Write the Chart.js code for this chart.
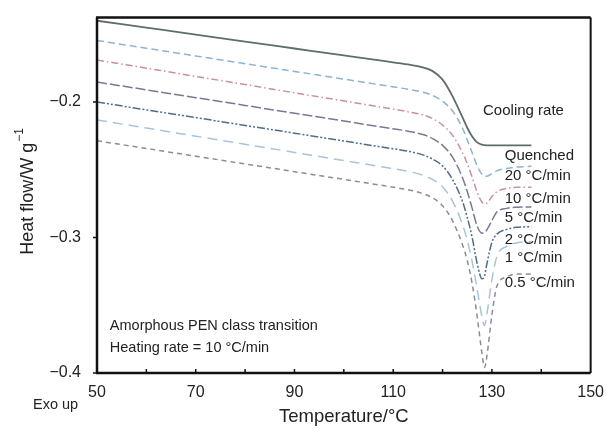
<!DOCTYPE html>
<html lang="en">
<head>
  <meta charset="UTF-8" />
  <title>PEN glass transition DSC</title>
  <script src="https://cdn.jsdelivr.net/npm/chart.js@4.4.0/dist/chart.umd.min.js"></script>
  <style>
    html, body { margin: 0; padding: 0; background: #fff; }
    .wrap { width: 606px; height: 432px; position: relative; }
  </style>
</head>
<body>
  <div class="wrap"><canvas id="dsc"></canvas></div>

  <script>
    // temperatures (°C) shared by all curves
    const temps = [50, 60, 70, 80, 90, 100, 108, 113, 116, 118, 120, 122, 124, 125, 126, 127, 128, 128.5, 129, 130, 131, 133, 135, 138];

    const quenched = [-0.140, -0.1451, -0.1502, -0.1554, -0.1605, -0.1656, -0.1697, -0.1723, -0.1745, -0.1772, -0.1835, -0.1956, -0.211, -0.219, -0.2255, -0.2298, -0.2315, -0.2318, -0.232, -0.232, -0.232, -0.232, -0.232, -0.232];
    const rate20 = [-0.1546, -0.1603, -0.166, -0.1717, -0.1774, -0.1831, -0.1877, -0.1906, -0.1928, -0.1952, -0.1995, -0.2065, -0.219, -0.228, -0.2375, -0.247, -0.2535, -0.2548, -0.2548, -0.2528, -0.2508, -0.249, -0.248, -0.2475];
    const rate10 = [-0.169, -0.175, -0.1811, -0.1871, -0.1932, -0.1992, -0.204, -0.2072, -0.2095, -0.2123, -0.217, -0.2245, -0.237, -0.2455, -0.2555, -0.2665, -0.274, -0.2752, -0.2745, -0.2698, -0.2662, -0.2638, -0.263, -0.263];
    const rate5 = [-0.1853, -0.191, -0.1968, -0.2025, -0.2083, -0.214, -0.2187, -0.2215, -0.224, -0.227, -0.232, -0.2405, -0.2555, -0.266, -0.2785, -0.2915, -0.2968, -0.2965, -0.2942, -0.2875, -0.2812, -0.2785, -0.2777, -0.2775];
    const rate2 = [-0.200, -0.2058, -0.2115, -0.2173, -0.223, -0.2288, -0.2334, -0.2363, -0.239, -0.2422, -0.2472, -0.257, -0.273, -0.285, -0.300, -0.319, -0.3305, -0.3285, -0.319, -0.3035, -0.2975, -0.294, -0.2925, -0.292];
    const rate1 = [-0.2132, -0.2192, -0.2252, -0.2312, -0.2372, -0.2432, -0.248, -0.2512, -0.254, -0.2572, -0.2625, -0.273, -0.290, -0.302, -0.318, -0.338, -0.359, -0.365, -0.356, -0.331, -0.314, -0.3065, -0.304, -0.303];
    const rate05 = [-0.2286, -0.2343, -0.240, -0.2457, -0.2514, -0.2571, -0.2617, -0.2648, -0.2675, -0.2708, -0.2765, -0.2875, -0.305, -0.317, -0.334, -0.358, -0.386, -0.396, -0.387, -0.357, -0.336, -0.329, -0.327, -0.327];

    const seriesNames = ['Quenched', '20 °C/min', '10 °C/min', '5 °C/min', '2 °C/min', '1 °C/min', '0.5 °C/min'];
    const yTicks = [-0.4, -0.3, -0.2];

    const FONT = "'Liberation Sans', Arial, sans-serif";

    function pts(vals) {
      return vals.map((v, i) => ({ x: temps[i], y: v }));
    }

    function line(label, vals, color, dash, width) {
      return {
        label: label,
        data: pts(vals),
        borderColor: color,
        borderWidth: width || 1.5,
        borderDash: dash,
        pointRadius: 0,
        fill: false,
        cubicInterpolationMode: 'monotone'
      };
    }

    // labels placed in data units (temperature, heat flow)
    const notes = [
      { text: 'Cooling rate', x: 128.2, y: -0.2066, size: 15 },
      { text: 'Quenched', x: 132.6, y: -0.2396, size: 15 },
      { text: '20 °C/min', x: 132.6, y: -0.2545, size: 15 },
      { text: '10 °C/min', x: 132.6, y: -0.2712, size: 15 },
      { text: '5 °C/min', x: 132.6, y: -0.2857, size: 15 },
      { text: '2 °C/min', x: 132.6, y: -0.3018, size: 15 },
      { text: '1 °C/min', x: 132.6, y: -0.3150, size: 15 },
      { text: '0.5 °C/min', x: 132.6, y: -0.3333, size: 15 },
      { text: 'Amorphous PEN class transition', x: 52.6, y: -0.3655, size: 14.5 },
      { text: 'Heating rate = 10 °C/min', x: 52.6, y: -0.3815, size: 14.5 }
    ];

    const decor = {
      id: 'decor',
      afterDraw(chart) {
        const ctx = chart.ctx;
        const a = chart.chartArea;
        const xs = chart.scales.x, ys = chart.scales.y;
        ctx.save();

        // frame
        ctx.strokeStyle = '#111';
        ctx.lineWidth = 2.5;
        ctx.beginPath();
        ctx.moveTo(a.left, a.top); ctx.lineTo(a.left, a.bottom);
        ctx.moveTo(a.left - 1, a.bottom); ctx.lineTo(a.right, a.bottom);
        ctx.moveTo(a.left - 1, a.top); ctx.lineTo(a.right, a.top);
        ctx.stroke();
        ctx.lineWidth = 2;
        ctx.beginPath();
        ctx.moveTo(a.right, a.top); ctx.lineTo(a.right, a.bottom);
        ctx.stroke();

        // inward x ticks every 10 °C
        ctx.lineWidth = 1.5;
        ctx.beginPath();
        for (let t = 60; t < 150; t += 10) {
          const px = xs.getPixelForValue(t);
          ctx.moveTo(px, a.bottom);
          ctx.lineTo(px, a.bottom - 4);
        }
        // outward y ticks
        yTicks.forEach(v => {
          const py = ys.getPixelForValue(v);
          ctx.moveTo(a.left, py);
          ctx.lineTo(a.left - 4, py);
        });
        ctx.stroke();

        // annotations
        ctx.fillStyle = '#222';
        ctx.textBaseline = 'middle';
        ctx.textAlign = 'left';
        notes.forEach(n => {
          ctx.font = n.size + 'px ' + FONT;
          ctx.fillText(n.text, xs.getPixelForValue(n.x), ys.getPixelForValue(n.y));
        });

        // Exo up
        ctx.font = '14.5px ' + FONT;
        ctx.fillText('Exo up', 33, 405);

        // y axis title with superscript
        ctx.translate(28, 192);
        ctx.rotate(-Math.PI / 2);
        const main = 'Heat flow/W g';
        ctx.font = '18px ' + FONT;
        const w1 = ctx.measureText(main).width;
        ctx.font = '12px ' + FONT;
        const w2 = ctx.measureText('\u22121').width;
        const start = -(w1 + w2) / 2;
        ctx.font = '18px ' + FONT;
        ctx.fillText(main, start, 0);
        ctx.font = '12px ' + FONT;
        ctx.fillText('\u22121', start + w1 + 1, -8);
        ctx.restore();
      }
    };

    new Chart(document.getElementById('dsc'), {
      type: 'line',
      data: {
        datasets: [
          line(seriesNames[0], quenched, '#5f6e66', [], 1.8),
          line(seriesNames[1], rate20, '#8db3cf', [7, 4]),
          line(seriesNames[2], rate10, '#c98fa2', [7, 3, 1.5, 3]),
          line(seriesNames[3], rate5, '#7c7890', [10, 3]),
          line(seriesNames[4], rate2, '#4e6d86', [8, 2, 2, 2, 2, 2]),
          line(seriesNames[5], rate1, '#a8c4da', [10, 6]),
          line(seriesNames[6], rate05, '#8c8b9a', [5, 4])
        ]
      },
      options: {
        responsive: true,
        maintainAspectRatio: false,
        animation: false,
        layout: { padding: { top: 14, right: 12, left: 0, bottom: 0 } },
        plugins: {
          legend: { display: false },
          tooltip: { enabled: false }
        },
        scales: {
          x: {
            type: 'linear',
            min: 50,
            max: 150,
            grid: { display: false },
            border: { display: false },
            ticks: {
              stepSize: 10,
              autoSkip: false,
              maxRotation: 0,
              padding: 2,
              color: '#222',
              font: { family: FONT, size: 16 },
              callback: v => ((v - 50) % 20 === 0 ? String(v) : '')
            },
            title: {
              display: true,
              text: 'Temperature/°C',
              color: '#222',
              font: { family: FONT, size: 18.5 },
              padding: { top: 14 }
            },
            afterFit(scale) { scale.height = 59; }
          },
          y: {
            type: 'linear',
            min: -0.4,
            max: -0.1377,
            grid: { display: false },
            border: { display: false },
            afterBuildTicks(scale) {
              scale.ticks = yTicks.map(v => ({ value: v }));
            },
            ticks: {
              padding: 8,
              color: '#222',
              font: { family: FONT, size: 16 },
              callback: v => '\u2212' + Math.abs(v).toFixed(1)
            },
            afterFit(scale) { scale.width = 97; }
          }
        }
      },
      plugins: [decor]
    });
  </script>
</body>
</html>
